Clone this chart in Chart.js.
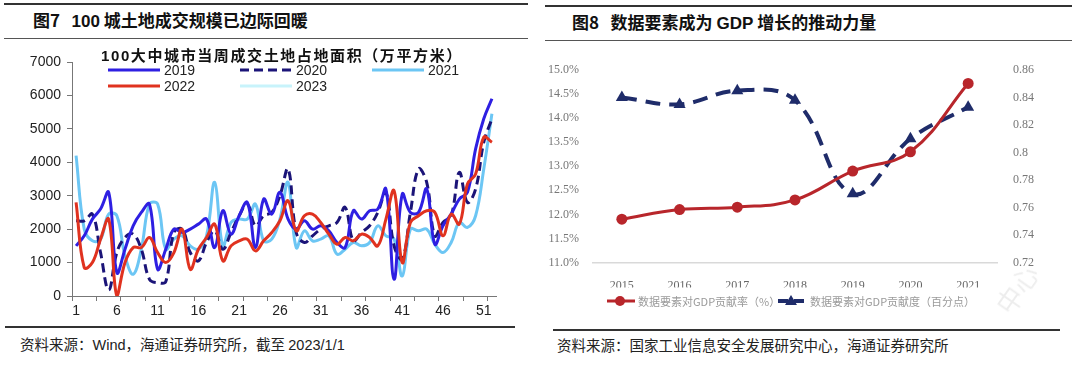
<!DOCTYPE html>
<html>
<head>
<meta charset="utf-8">
<script src="https://cdn.jsdelivr.net/npm/chart.js@4.4.1/dist/chart.umd.min.js"></script>
<style>
  html,body{margin:0;padding:0;background:#fff;}
  body{width:1080px;height:368px;position:relative;overflow:hidden;font-family:"Noto Sans CJK SC","Liberation Sans",sans-serif;}
  .rule{position:absolute;background:#333;}
  .head{position:absolute;font-weight:bold;font-size:17px;line-height:20px;color:#111;white-space:nowrap;}
  .src{position:absolute;font-size:14.5px;line-height:18px;color:#222;white-space:nowrap;}
  canvas{position:absolute;}
  #t1{position:absolute;left:101px;top:46px;font-weight:bold;font-size:15px;line-height:18px;letter-spacing:1.6px;color:#111;white-space:nowrap;}
  #wm{position:absolute;left:990px;top:270px;font-size:26px;color:rgba(0,0,0,0.07);transform:rotate(-55deg);white-space:nowrap;}
</style>
</head>
<body>
<div class="rule" style="left:4px;top:3px;width:524px;height:1.5px;"></div>
<div class="head" style="left:33px;top:10px;">图7&nbsp;&nbsp;&nbsp;<span style="font-family:'Liberation Sans';">100</span> 城土地成交规模已边际回暖</div>
<div class="rule" style="left:4px;top:38px;width:524px;height:1px;background:#555;"></div>

<div class="rule" style="left:545px;top:5px;width:527px;height:1.5px;"></div>
<div class="head" style="left:572px;top:12px;">图8&nbsp;&nbsp;&nbsp;数据要素成为 <span style="font-family:'Liberation Sans';">GDP</span> 增长的推动力量</div>
<div class="rule" style="left:545px;top:40px;width:527px;height:1px;background:#555;"></div>

<canvas id="c1" width="540" height="280" style="left:0px;top:40px;"></canvas>
<div id="t1"><span style="font-family:'Liberation Sans';">100</span>大中城市当周成交土地占地面积（万平方米）</div>

<canvas id="c2" width="495" height="275" style="left:545px;top:45px;"></canvas>
<div id="wm">中心</div>

<div class="rule" style="left:5px;top:326px;width:510px;height:1.5px;"></div>
<div class="src" style="left:20px;top:335px;">资料来源：<span style="font-family:'Liberation Sans';">Wind</span>，海通证券研究所，截至 <span style="font-family:'Liberation Sans';">2023/1/1</span></div>
<div class="rule" style="left:553px;top:329px;width:507px;height:1.5px;"></div>
<div class="src" style="left:557px;top:336px;">资料来源：国家工业信息安全发展研究中心，海通证券研究所</div>

<script>
// ---------- Figure 7 data ----------
const weeks = ['1','2','3','4','5','6','7','8','9','10','11','12','13','14','15','16','17','18','19','20','21','22','23','24','25','26',
               '27','28','29','30','31','32','33','34','35','36','37','38','39','40','41','42','43','44','45','46','47','48','49','50','51','52'];
const yTicksLeft = [0,1000,2000,3000,4000,5000,6000,7000];
const s2019 = [1500,1800,2300,2600,3100,700,1400,2100,2500,2750,800,1400,2000,1900,2000,2150,2300,1450,2550,1850,2400,2800,1450,2900,2450,3100,
               2300,2000,2250,2000,2100,1950,1600,1450,2550,2300,2550,2600,3200,500,3050,2500,2500,3200,1550,2100,2450,2900,3100,4400,5300,5900];
const s2020 = [2250,2250,2450,1300,180,1300,1750,1850,1400,500,400,430,1900,2000,1300,1050,1600,1950,1400,1900,2400,2750,2100,2400,2500,3000,
               3800,1900,1600,1800,2000,2100,2200,2650,1650,1900,2100,2500,3100,1500,1100,2500,3800,3400,1800,2200,2400,3700,2800,3200,4600,5300];
const s2021 = [4200,2000,1650,1700,2450,2400,1200,650,1400,2750,2750,1400,1700,1800,1500,1400,1800,3400,1500,2200,2300,2300,2750,1650,1700,2300,
               3400,1450,1950,1650,1700,1800,1250,1400,1600,1500,1600,2100,1800,1700,600,2000,1950,2000,1550,1300,1600,2200,2050,2400,3800,5450];
const s2022 = [2800,850,1000,1700,2300,0,1000,1450,1450,1750,1300,1000,1300,2000,800,1400,1750,2150,1050,1500,1650,1700,1350,1650,1900,2250,
               2850,1950,2400,2450,2200,1850,1550,1750,1650,1850,1750,1500,2300,3150,1000,2200,2400,2550,2500,1800,2450,2150,3350,3650,4750,4600];
const s2023 = [];
const seriesNames = ['2019','2020','2021','2022','2023'];

// ---------- Figure 8 data ----------
const years = ['2015','2016','2017','2018','2019','2020','2021'];
const contribRate = [11.9,12.1,12.15,12.3,12.9,13.3,14.72];       // left axis, %
const contribDegree = [0.84,0.835,0.845,0.838,0.77,0.81,0.833];  // right axis, pct points
const rateName = '数据要素对GDP贡献率（%）';
const degreeName = '数据要素对GDP贡献度（百分点）';

// ---------- Figure 7 chart ----------
const leftLegend = {
  id:'leftLegend',
  afterDraw(chart){
    const ctx = chart.ctx;
    const items = [
      {i:0, x0:108, x1:160, tx:164, y:30},
      {i:1, x0:240, x1:292, tx:296, y:30},
      {i:2, x0:372, x1:424, tx:428, y:30},
      {i:3, x0:108, x1:160, tx:164, y:46},
      {i:4, x0:240, x1:292, tx:296, y:46}
    ];
    ctx.save();
    items.forEach(it=>{
      const ds = chart.data.datasets[it.i];
      ctx.beginPath();
      ctx.setLineDash(ds.borderDash || []);
      ctx.strokeStyle = ds.borderColor;
      ctx.lineWidth = ds.borderWidth;
      ctx.moveTo(it.x0, it.y); ctx.lineTo(it.x1, it.y);
      ctx.stroke();
      ctx.setLineDash([]);
      ctx.fillStyle = '#222';
      ctx.font = '14px "Liberation Sans"';
      ctx.textBaseline = 'middle';
      ctx.fillText(ds.label, it.tx, it.y+1);
    });
    ctx.restore();
  }
};

new Chart(document.getElementById('c1'), {
  type:'line',
  data:{
    labels:weeks,
    datasets:[
      {label:seriesNames[0], data:s2019, borderColor:'#2e1fe2', borderWidth:3, order:2},
      {label:seriesNames[1], data:s2020, borderColor:'#1b1478', borderWidth:3, borderDash:[9,5], order:3},
      {label:seriesNames[2], data:s2021, borderColor:'#6cc6f4', borderWidth:3, order:4},
      {label:seriesNames[3], data:s2022, borderColor:'#e0321f', borderWidth:3, order:1},
      {label:seriesNames[4], data:s2023, borderColor:'#c8f3fb', borderWidth:3, order:5}
    ]
  },
  options:{
    responsive:false, animation:false, devicePixelRatio:1,
    elements:{point:{radius:0}, line:{tension:0.4, fill:false}},
    layout:{padding:{top:22,right:44,bottom:0,left:0}},
    plugins:{legend:{display:false}, tooltip:{enabled:false}, title:{display:false}},
    scales:{
      x:{
        type:'category', offset:true,
        grid:{display:true, drawOnChartArea:false, offset:true, tickLength:5,
              color:(c)=> (c.index!==undefined && c.index%3===0) ? '#777' : 'rgba(0,0,0,0)'},
        border:{display:true, color:'#777', width:1},
        ticks:{autoSkip:false, maxRotation:0, minRotation:0, padding:2, color:'#222',
               font:{family:'Liberation Sans', size:14},
               callback:function(v,i){ return i%5===0 ? this.getLabelForValue(v) : ''; }},
        afterFit:(s)=>{ s.height = 24; }
      },
      y:{
        min:yTicksLeft[0], max:yTicksLeft[yTicksLeft.length-1],
        afterBuildTicks:(s)=>{ s.ticks = yTicksLeft.map(v=>({value:v})); },
        grid:{display:true, drawOnChartArea:false, tickLength:5, color:'#777'},
        border:{display:true, color:'#777', width:1},
        ticks:{padding:6, color:'#222', font:{family:'Liberation Sans', size:14}, callback:(v)=>String(v)},
        afterFit:(s)=>{ s.width = 72; }
      }
    }
  },
  plugins:[leftLegend]
});

// ---------- Figure 8 chart ----------
const rightLegend = {
  id:'rightLegend',
  afterDraw(chart){
    const ctx = chart.ctx;
    const y = 256;
    const d0 = chart.data.datasets[0], d1 = chart.data.datasets[1];
    ctx.save();
    ctx.beginPath(); ctx.strokeStyle = d0.borderColor; ctx.lineWidth = 3;
    ctx.moveTo(62,y); ctx.lineTo(90,y); ctx.stroke();
    ctx.beginPath(); ctx.fillStyle = d0.borderColor; ctx.arc(75,y,5,0,Math.PI*2); ctx.fill();
    ctx.beginPath(); ctx.strokeStyle = d1.borderColor; ctx.lineWidth = 4; ctx.setLineDash([10,6]);
    ctx.moveTo(233,y); ctx.lineTo(260,y); ctx.stroke(); ctx.setLineDash([]);
    ctx.beginPath(); ctx.fillStyle = d1.borderColor;
    ctx.moveTo(246,y-6); ctx.lineTo(252,y+4); ctx.lineTo(240,y+4); ctx.closePath(); ctx.fill();
    ctx.fillStyle = '#9a9a9a';
    ctx.font = '11px "Noto Sans CJK SC"';
    ctx.textBaseline = 'middle';
    ctx.fillText(d0.label, 93, y+1);
    ctx.fillText(d1.label, 265, y+1);
    ctx.restore();
  }
};

const serif = {family:'Liberation Serif', size:12};
new Chart(document.getElementById('c2'), {
  type:'line',
  data:{
    labels:years,
    datasets:[
      {label:rateName, data:contribRate, yAxisID:'yL', borderColor:'#b8262b', backgroundColor:'#b8262b',
       borderWidth:3, pointRadius:5.5, pointBorderWidth:0, pointStyle:'circle', tension:0.4, order:1},
      {label:degreeName, data:contribDegree, yAxisID:'yR', borderColor:'#1f2c6a', backgroundColor:'#1f2c6a',
       borderWidth:4, borderDash:[15,9], pointRadius:7, pointBorderWidth:0, pointStyle:'triangle', tension:0.4, order:2}
    ]
  },
  options:{
    responsive:false, animation:false, devicePixelRatio:1,
    layout:{padding:{top:25,bottom:32.5,left:0,right:0}},
    plugins:{legend:{display:false}, tooltip:{enabled:false}},
    scales:{
      x:{offset:true, grid:{display:false}, border:{display:true, color:'#d9d9d9', width:1.5},
         ticks:{padding:8, color:'#666', font:serif}, afterFit:(s)=>{ s.height = 25; }},
      yL:{position:'left', min:11, max:15, grid:{display:false}, border:{display:false},
          ticks:{stepSize:0.5, padding:6, color:'#777', font:serif, callback:(v)=>Number(v).toFixed(1)+'%'},
          afterFit:(s)=>{ s.width = 48; }},
      yR:{position:'right', min:0.72, max:0.86, grid:{display:false}, border:{display:false},
          ticks:{stepSize:0.02, padding:8, color:'#777', font:serif, callback:(v)=>String(Number(Number(v).toFixed(2)))},
          afterFit:(s)=>{ s.width = 43; }}
    }
  },
  plugins:[rightLegend]
});
</script>
</body>
</html>
